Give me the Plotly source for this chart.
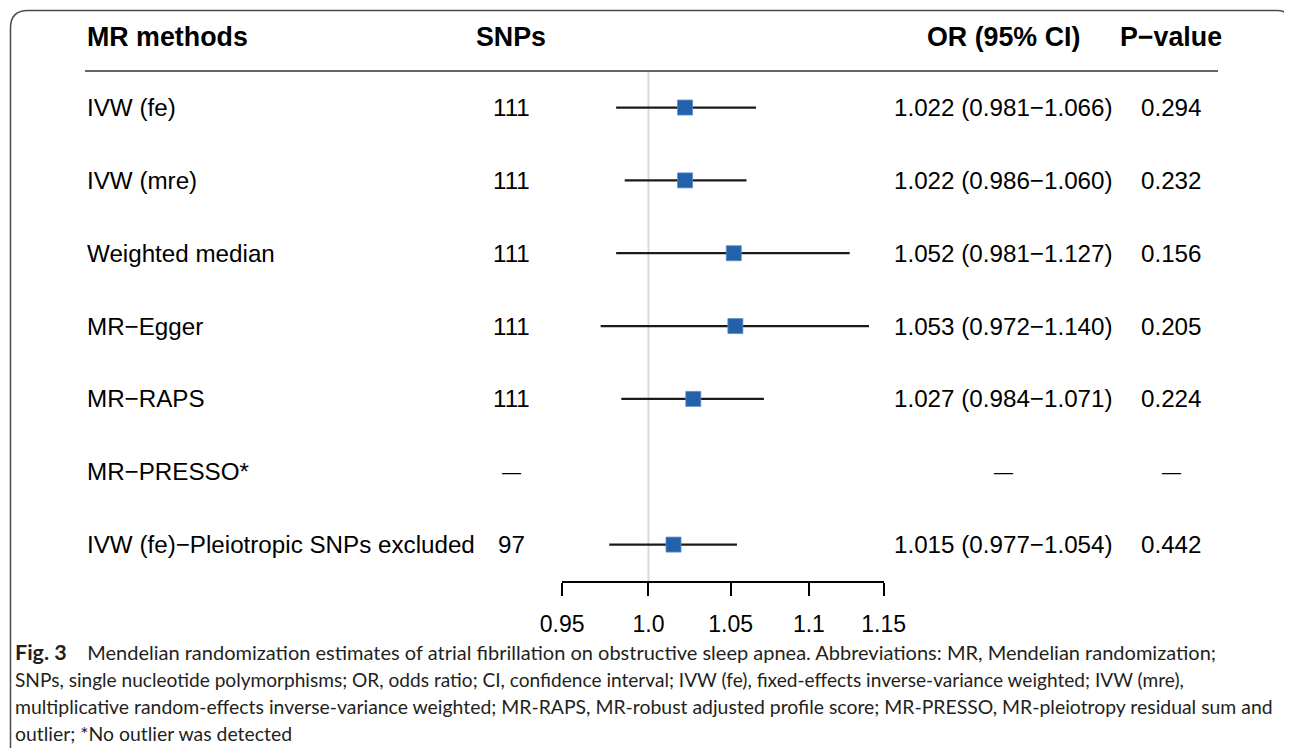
import math
import plotly.graph_objects as go

# ---------------- data ----------------
methods = ["IVW (fe)", "IVW (mre)", "Weighted median", "MR\u2212Egger", "MR\u2212RAPS",
           "MR\u2212PRESSO*", "IVW (fe)\u2212Pleiotropic SNPs excluded"]
snps = ["111", "111", "111", "111", "111", "\u2014", "97"]
or_est = [1.022, 1.022, 1.052, 1.053, 1.027, None, 1.015]
ci_low = [0.981, 0.986, 0.981, 0.972, 0.984, None, 0.977]
ci_high = [1.066, 1.060, 1.127, 1.140, 1.071, None, 1.054]
p_values = ["0.294", "0.232", "0.156", "0.205", "0.224", "\u2014", "0.442"]
tick_vals = [0.95, 1.0, 1.05, 1.1, 1.15]
tick_text = ["0.95", "1.0", "1.05", "1.1", "1.15"]
headers = ["MR methods", "SNPs", "OR (95% CI)", "P\u2212value"]
caption_lines = [
    "<b><span style='font-size:21.5px'>Fig. 3</span></b>    Mendelian randomization estimates of atrial fibrillation on obstructive sleep apnea. Abbreviations: MR, Mendelian randomization;",
    "SNPs, single nucleotide polymorphisms; OR, odds ratio; CI, confidence interval; IVW (fe), fixed-effects inverse-variance weighted; IVW (mre),",
    "multiplicative random-effects inverse-variance weighted; MR-RAPS, MR-robust adjusted profile score; MR-PRESSO, MR-pleiotropy residual sum and",
    "outlier; *No outlier was detected",
]
caption_sizes = [20.0, 19.1, 19.4, 19.4]

# ---------------- layout helpers ----------------
PAGE_W, PAGE_H = 1292, 748
OFF = 8  # page body margin
W, H = PAGE_W - OFF, PAGE_H - OFF


def px(x):
    return (x - OFF) / W


def py(y):
    return 1 - (y - OFF) / H


FONT = "Liberation Sans, Arial, Helvetica, sans-serif"
CAP_FONT = "Lato, Open Sans, sans-serif"
BODY = 24.2
HEAD = 26.8
ROW_PX = 72.84

n = len(methods)
rows = list(range(n))
axis_px = 581.0


def cell(t):
    if t == "\u2014":
        return "<span style='font-size:19px'>\u2014</span>"
    return t


or_text = []
for e, lo, hi in zip(or_est, ci_low, ci_high):
    if e is None:
        or_text.append("\u2014")
    else:
        or_text.append(f"{e:.3f} ({lo:.3f}\u2212{hi:.3f})")

fig = go.Figure()

# reference line at OR = 1
fig.add_trace(go.Scatter(x=[1.0, 1.0], y=[-0.5, n - 0.5], mode="lines",
                         line=dict(color="#d9d9d9", width=2), hoverinfo="skip",
                         showlegend=False, cliponaxis=False))

# CI lines
cx, cy = [], []
for i, lo, hi in zip(rows, ci_low, ci_high):
    if lo is None:
        continue
    cx += [lo, hi, None]
    cy += [i, i, None]
fig.add_trace(go.Scatter(x=cx, y=cy, mode="lines",
                         line=dict(color="#1a1a1a", width=2.2),
                         showlegend=False, hoverinfo="skip"))

# point estimates
mx = [e for e in or_est if e is not None]
my = [i for i, e in zip(rows, or_est) if e is not None]
fig.add_trace(go.Scatter(x=mx, y=my, mode="markers",
                         marker=dict(symbol="square", size=15, color="#2461ab",
                                     line=dict(color="#5d8cc6", width=0.8)),
                         showlegend=False, cliponaxis=False))

annotations = []
col_x = [85, 511, 1003, 1171]
col_anchor = ["left", "center", "center", "center"]
for h, cxp, anc in zip(headers, col_x, col_anchor):
    annotations.append(dict(x=px(cxp), y=py(37), xref="paper", yref="paper",
                            text=f"<b>{h}</b>", showarrow=False, xanchor=anc,
                            yanchor="middle", font=dict(family=FONT, size=HEAD, color="#000")))

for i in rows:
    for txt, cxp, anc in zip([methods[i], snps[i], or_text[i], p_values[i]], col_x, col_anchor):
        annotations.append(dict(x=px(cxp), y=i, xref="paper", yref="y",
                                text=cell(txt), showarrow=False, xanchor=anc, yanchor="middle",
                                font=dict(family=FONT, size=BODY, color="#000")))

for k, (line, sz) in enumerate(zip(caption_lines, caption_sizes)):
    annotations.append(dict(x=px(13), y=py(652 + 27 * k), xref="paper", yref="paper",
                            text=line, showarrow=False, xanchor="left", yanchor="middle",
                            font=dict(family=CAP_FONT, size=sz, color="#231f20")))

shapes = [
    dict(type="line", xref="paper", yref="paper", x0=px(85), x1=px(1218), y0=py(71), y1=py(71),
         line=dict(color="#333333", width=1.6)),
    dict(type="path", xref="paper", yref="paper",
         path=(f"M {px(10.5)} {py(760)} L {px(10.5)} {py(28)} Q {px(10.5)} {py(10.5)} {px(28)} {py(10.5)} "
               f"L {px(1277)} {py(10.5)} Q {px(1291)} {py(10.5)} {px(1291.8)} {py(26)}"),
         line=dict(color="#4a4a4a", width=1.5)),
]

fig.update_layout(
    width=W, height=H, margin=dict(l=0, r=0, t=0, b=0, autoexpand=False),
    paper_bgcolor="white", plot_bgcolor="white",
    showlegend=False,
    annotations=annotations, shapes=shapes,
    xaxis=dict(type="log", domain=[px(562.1), px(883.7)],
               range=[math.log10(tick_vals[0]), math.log10(tick_vals[-1])],
               tickvals=tick_vals, ticktext=tick_text,
               showgrid=False, zeroline=False, showline=True, linecolor="#000", linewidth=2,
               ticks="outside", ticklen=13, tickwidth=2, tickcolor="#000",
               ticklabelstandoff=8,
               tickfont=dict(family=FONT, size=23, color="#000"),
               anchor="y", fixedrange=True, automargin=False),
    yaxis=dict(domain=[py(axis_px), 1],
               range=[n - 0.5, (n - 0.5) - (axis_px - OFF) / ROW_PX],
               visible=False, showgrid=False, zeroline=False, fixedrange=True, automargin=False),
)

fig.write_html("out.html")
